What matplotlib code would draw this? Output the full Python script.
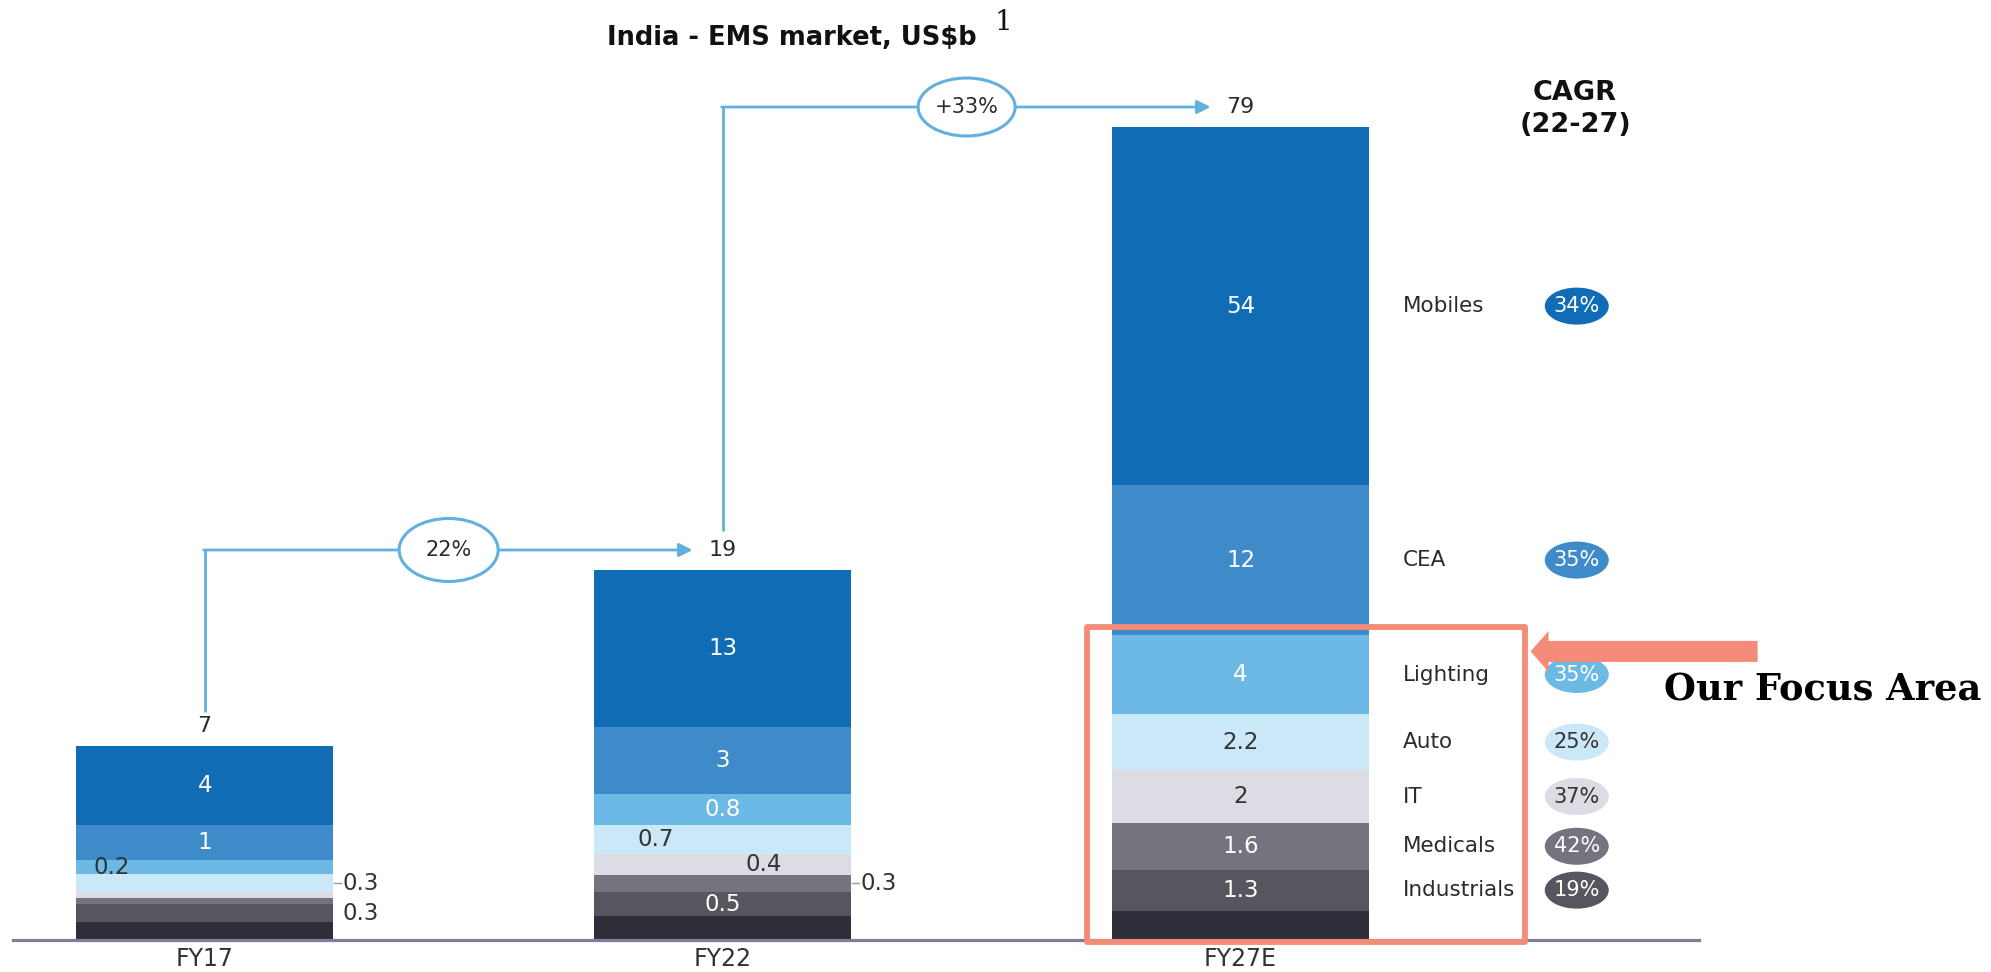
import numpy as np
import matplotlib

matplotlib.use("Agg")
import matplotlib.pyplot as plt
from matplotlib.patches import Ellipse, Rectangle, FancyArrow

plt.rcParams["font.family"] = ["DejaVu Sans"]

years = ["FY17", "FY22", "FY27E"]
totals = [7, 19, 79]
segments = ["Mobiles", "CEA", "Lighting", "Auto", "IT", "Medicals", "Industrials", "Other"]
fy17 = [4, 1, 0.2, 0.3, 0.05, 0.05, 0.3, 0.3]
fy22 = [13, 3, 0.8, 0.7, 0.4, 0.3, 0.5, 0.5]
fy27 = [54, 12, 4, 2.2, 2, 1.6, 1.3, 0.7]
cagr = ["34%", "35%", "35%", "25%", "37%", "42%", "19%"]
growth = ["22%", "+33%"]

# ---- style ----
colors = ["#0f6cb5", "#3f8bc9", "#6cb9e6", "#cbe8f9", "#dcdce4", "#74747f", "#56565f", "#2e2e3a"]
txt_on = ["white", "white", "white", "#333333", "#333333", "white", "white", "white"]
DARK = "#2b2b2b"
LINE = "#62b0e0"
SALMON = "#f48b79"
# where each value label goes: c=centre, l/r=shifted inside, o=outside, ol=outside w/ leader
place = [
    ["c", "c", "l", "ol", None, None, "o", None],
    ["c", "c", "c", "l", "r", "ol", "c", None],
    ["c", "c", "c", "c", "c", "c", "c", None],
]
P = 0.58  # source chart is not drawn to scale -> segments shown as value**P

W, Hf = 1991, 972
fig = plt.figure(figsize=(W / 100, Hf / 100), dpi=100)
AX = [13 / W, (Hf - 939.6) / Hf, 1686 / W, 812.6 / Hf]
ax = fig.add_axes(AX)

data = [fy17, fy22, fy27]
x = np.arange(len(years))
width = 0.495
heights = [np.array(d, dtype=float) ** P for d in data]
tops = [h.sum() for h in heights]
H = max(tops)
ax.set_xlim(-0.37, 2.885)
ax.set_ylim(0, H)
xpx = (2.885 + 0.37) / (AX[2] * W)
ypx = H / (AX[3] * Hf)

centres = []
for i, (h, vals) in enumerate(zip(heights, data)):
    bottoms = np.concatenate([np.cumsum(h[::-1])[::-1][1:], [0]])
    ax.bar(x[i], h, bottom=bottoms, width=width, color=colors, edgecolor="none")
    centres.append(bottoms + h / 2)
    for j, v in enumerate(vals):
        p = place[i][j]
        if p is None:
            continue
        yc = bottoms[j] + h[j] / 2
        lab = f"{v:g}"
        if p == "c":
            ax.text(x[i], yc, lab, ha="center", va="center", fontsize=16.5, color=txt_on[j])
        elif p in ("l", "r"):
            dx = -0.13 if p == "l" else 0.08
            if i == 0:
                dx = -0.18
            ax.text(x[i] + dx, yc, lab, ha="center", va="center", fontsize=16.5,
                    color="#333333")
        else:
            edge = x[i] + width / 2
            if p == "ol":
                ax.plot([edge + 1 * xpx, edge + 8 * xpx], [yc, yc], color="#999999", lw=1,
                        clip_on=False)
            ax.text(edge + 10 * xpx, yc, lab, ha="left", va="center", fontsize=16.5,
                    color="#333333")

# totals above bars
y_tot = [t + 20 * ypx for t in tops]
for i, t in enumerate(totals):
    ax.text(x[i], y_tot[i], str(t), ha="center", va="center", fontsize=16, color=DARK)

# growth connectors
starts = [14, 19]
ell = [(99, 63), (97, 58)]
for k in range(2):
    y0 = y_tot[k] + starts[k] * ypx
    y1 = y_tot[k + 1]
    tip = x[k + 1] - 30 * xpx
    ax.plot([x[k], x[k]], [y0, y1], color=LINE, lw=2, clip_on=False, solid_capstyle="butt")
    ax.annotate("", xy=(tip, y1), xytext=(x[k] - 1 * xpx, y1),
                arrowprops=dict(arrowstyle="-|>", color=LINE, lw=2, mutation_scale=20,
                                shrinkA=0, shrinkB=0), annotation_clip=False)
    cx = (x[k] + tip) / 2
    e = Ellipse((cx, y1), ell[k][0] * xpx, ell[k][1] * ypx, facecolor="white",
                edgecolor=LINE, lw=2.2, zorder=3, clip_on=False)
    ax.add_patch(e)
    ax.text(cx, y1, growth[k], ha="center", va="center", fontsize=15, color=DARK, zorder=4)

# category names and CAGR bubbles next to FY27E
c27 = centres[2]
for j in range(len(cagr)):
    ax.text(x[2] + 0.314, c27[j], segments[j], ha="left", va="center", fontsize=15.5,
            color=DARK)
    b = Ellipse((x[2] + 0.649, c27[j]), 64 * xpx, 37 * ypx, facecolor=colors[j],
                edgecolor="none", clip_on=False, zorder=3)
    ax.add_patch(b)
    ax.text(x[2] + 0.649, c27[j], cagr[j], ha="center", va="center", fontsize=15,
            color=txt_on[j], zorder=4)

# focus box around lighting and below
h27 = heights[2]
light_top = h27[2:].sum()
rect_top = light_top + 8 * ypx
ax.add_patch(Rectangle((x[2] - 154 * xpx, -2 * ypx), 438 * xpx, rect_top + 2 * ypx,
                       fill=False, edgecolor=SALMON, lw=4.2, joinstyle="round",
                       clip_on=False, zorder=5))
ay = rect_top - 24.5 * ypx
ax.add_patch(FancyArrow(x[2] + 517 * xpx, ay, -(517 - 290) * xpx, 0, width=21 * ypx,
                        head_width=41 * ypx, head_length=18 * xpx, length_includes_head=True,
                        color=SALMON, ec="none", clip_on=False, zorder=5))
ax.text(x[2] + 582 * xpx, rect_top - 64 * ypx, "Our Focus Area", ha="center", va="center",
        fontsize=26.5, fontweight="bold", family="DejaVu Serif", color="black")

# axes styling
ax.set_xticks(x, years)
ax.tick_params(axis="x", length=0, pad=5, labelsize=17, colors="#333333")
ax.set_yticks([])
for s in ("left", "right", "top"):
    ax.spines[s].set_visible(False)
ax.spines["bottom"].set_color("#7f7c9c")
ax.spines["bottom"].set_linewidth(2.3)

# headings
fig.text(607 / W, 1 - 38 / Hf, "India - EMS market, US$b", ha="left", va="center",
         fontsize=18.5, fontweight="bold", color="#111111")
fig.text(1003 / W, 1 - 22 / Hf, "1", ha="center", va="center", fontsize=20,
         family="DejaVu Serif", color="#111111")
fig.text(1575 / W, 1 - 109 / Hf, "CAGR\n(22-27)", ha="center", va="center", fontsize=19.5,
         fontweight="bold", linespacing=1.25, color="#111111")

fig.savefig("out.png", dpi=100)
